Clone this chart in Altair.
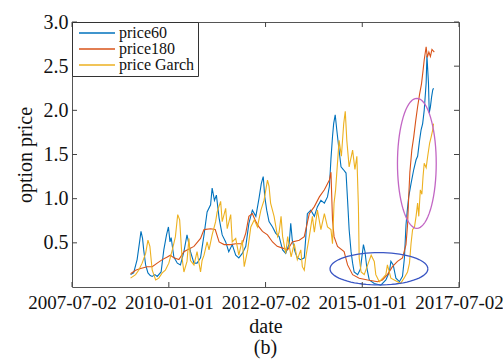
import math
from datetime import datetime

import altair as alt
import pandas as pd

# ---- option price series (time in decimal years) ----
p60_t = [2009.01, 2009.09, 2009.18, 2009.25, 2009.28, 2009.32, 2009.35, 2009.40, 2009.46, 2009.52,
         2009.57, 2009.64, 2009.70, 2009.80, 2009.87, 2009.94, 2009.99, 2010.03, 2010.06, 2010.13,
         2010.22, 2010.30, 2010.39, 2010.47, 2010.56, 2010.65, 2010.73, 2010.82, 2010.91, 2010.99,
         2011.08, 2011.12, 2011.18, 2011.23, 2011.30, 2011.38, 2011.47, 2011.55, 2011.64, 2011.73,
         2011.81, 2011.90, 2011.99, 2012.07, 2012.16, 2012.25, 2012.33, 2012.39, 2012.44, 2012.48,
         2012.53, 2012.59, 2012.68, 2012.76, 2012.85, 2012.94, 2013.02, 2013.11, 2013.15, 2013.19,
         2013.26, 2013.32, 2013.41, 2013.50, 2013.54, 2013.58, 2013.67, 2013.76, 2013.84, 2013.93,
         2014.02, 2014.10, 2014.15, 2014.19, 2014.23, 2014.26, 2014.30, 2014.34, 2014.40, 2014.45,
         2014.51, 2014.58, 2014.62, 2014.66, 2014.71, 2014.75, 2014.79, 2014.88, 2014.95, 2015.03,
         2015.07, 2015.12, 2015.18, 2015.31, 2015.48, 2015.61, 2015.70, 2015.74, 2015.80, 2015.87,
         2015.96, 2016.04, 2016.09, 2016.13, 2016.16, 2016.20, 2016.26, 2016.33, 2016.39, 2016.43,
         2016.48, 2016.52, 2016.56, 2016.60, 2016.65, 2016.67, 2016.71, 2016.73, 2016.76, 2016.79,
         2016.82, 2016.84]
p60_v = [0.14, 0.16, 0.31, 0.53, 0.63, 0.55, 0.42, 0.25, 0.16, 0.13,
         0.12, 0.14, 0.12, 0.17, 0.42, 0.59, 0.68, 0.51, 0.56, 0.34,
         0.27, 0.25, 0.40, 0.59, 0.40, 0.27, 0.27, 0.33, 0.59, 0.85,
         0.93, 1.12, 0.98, 1.04, 0.78, 0.59, 0.51, 0.40, 0.48, 0.36,
         0.33, 0.38, 0.46, 0.72, 0.87, 0.80, 1.00, 1.17, 1.25, 1.02,
         0.87, 0.74, 0.68, 0.61, 0.57, 0.42, 0.38, 0.49, 0.72, 0.53,
         0.40, 0.33, 0.31, 0.33, 0.57, 0.83, 0.87, 0.80, 0.91, 0.98,
         0.95, 1.02, 1.14, 1.45, 1.70, 1.85, 1.95, 1.78, 1.55, 1.36,
         1.33, 1.29, 0.98, 0.65, 0.40, 0.27, 0.17, 0.14, 0.20, 0.48,
         0.40, 0.21, 0.08, 0.04, 0.02, 0.08, 0.17, 0.29, 0.25, 0.10,
         0.06, 0.12, 0.33, 0.70, 0.85, 1.02, 1.17, 1.33, 1.44, 1.48,
         1.66, 1.78, 1.85, 2.00, 2.31, 2.62, 2.31, 1.97, 2.04, 2.15,
         2.23, 2.25]

p180_t = [2009.01, 2009.14, 2009.27, 2009.44, 2009.57, 2009.70, 2009.83, 2009.96, 2010.04, 2010.13,
          2010.26, 2010.39, 2010.52, 2010.65, 2010.82, 2010.91, 2011.08, 2011.20, 2011.30, 2011.43,
          2011.60, 2011.73, 2011.90, 2011.99, 2012.07, 2012.16, 2012.25, 2012.33, 2012.42, 2012.55,
          2012.68, 2012.80, 2012.94, 2013.07, 2013.19, 2013.37, 2013.50, 2013.63, 2013.76, 2013.89,
          2014.02, 2014.15, 2014.19, 2014.23, 2014.27, 2014.36, 2014.53, 2014.62, 2014.75, 2014.92,
          2015.14, 2015.40, 2015.52, 2015.65, 2015.78, 2015.91, 2016.04, 2016.13, 2016.17, 2016.20,
          2016.23, 2016.28, 2016.33, 2016.38, 2016.43, 2016.48, 2016.53, 2016.57, 2016.60, 2016.65,
          2016.68, 2016.72, 2016.76, 2016.80, 2016.86]
p180_v = [0.15, 0.19, 0.21, 0.23, 0.23, 0.27, 0.31, 0.34, 0.36, 0.33,
          0.31, 0.40, 0.43, 0.46, 0.55, 0.65, 0.66, 0.65, 0.51, 0.48,
          0.48, 0.49, 0.49, 0.61, 0.80, 0.83, 0.74, 0.68, 0.63, 0.59,
          0.51, 0.46, 0.44, 0.42, 0.51, 0.53, 0.57, 0.83, 0.91, 1.02,
          1.10, 1.21, 1.30, 0.76, 0.57, 0.46, 0.40, 0.25, 0.14, 0.10,
          0.08, 0.06, 0.08, 0.14, 0.23, 0.29, 0.33, 0.48, 0.70, 1.02,
          1.30, 1.55, 1.70, 1.88, 2.04, 2.18, 2.30, 2.45, 2.57, 2.72,
          2.60, 2.66, 2.61, 2.69, 2.66]

garch_t = [2009.01, 2009.14, 2009.22, 2009.31, 2009.40, 2009.46, 2009.51, 2009.57, 2009.66, 2009.74,
           2009.83, 2009.91, 2010.00, 2010.09, 2010.17, 2010.23, 2010.28, 2010.34, 2010.39, 2010.47,
           2010.52, 2010.56, 2010.65, 2010.73, 2010.82, 2010.86, 2010.91, 2010.99, 2011.04, 2011.12,
           2011.21, 2011.25, 2011.34, 2011.38, 2011.47, 2011.51, 2011.60, 2011.64, 2011.73, 2011.81,
           2011.90, 2011.95, 2012.04, 2012.12, 2012.21, 2012.29, 2012.38, 2012.46, 2012.55, 2012.59,
           2012.63, 2012.72, 2012.81, 2012.85, 2012.90, 2012.94, 2013.02, 2013.07, 2013.16, 2013.24,
           2013.32, 2013.41, 2013.45, 2013.50, 2013.54, 2013.63, 2013.71, 2013.76, 2013.84, 2013.93,
           2014.02, 2014.10, 2014.19, 2014.23, 2014.27, 2014.31, 2014.40, 2014.46, 2014.52, 2014.56,
           2014.60, 2014.66, 2014.75, 2014.81, 2014.86, 2014.90, 2014.92, 2014.97, 2015.05, 2015.14,
           2015.23, 2015.31, 2015.35, 2015.44, 2015.53, 2015.61, 2015.65, 2015.74, 2015.91, 2015.99,
           2016.08, 2016.17, 2016.22, 2016.26, 2016.30, 2016.35, 2016.39, 2016.43, 2016.46, 2016.50,
           2016.54, 2016.57, 2016.60, 2016.65, 2016.69, 2016.74, 2016.78, 2016.82, 2016.84]
garch_v = [0.10, 0.14, 0.19, 0.27, 0.38, 0.53, 0.46, 0.19, 0.08, 0.10,
           0.16, 0.19, 0.27, 0.42, 0.57, 0.82, 0.76, 0.34, 0.17, 0.29,
           0.55, 0.30, 0.25, 0.40, 0.17, 0.30, 0.36, 0.51, 0.42, 0.59,
           0.74, 0.85, 0.97, 0.74, 0.89, 0.66, 0.82, 0.51, 0.55, 0.36,
           0.53, 0.23, 0.42, 0.68, 0.76, 0.68, 0.87, 0.98, 1.21, 1.14,
           0.95, 0.80, 0.57, 0.62, 0.80, 0.57, 0.38, 0.57, 0.34, 0.49,
           0.31, 0.42, 0.23, 0.19, 0.34, 0.57, 0.80, 0.62, 0.87, 0.65,
           0.83, 0.68, 0.65, 0.49, 0.95, 1.10, 1.66, 1.48, 1.85, 1.99,
           1.66, 1.36, 1.55, 1.33, 1.48, 0.91, 0.33, 0.17, 0.14, 0.25,
           0.36, 0.29, 0.14, 0.06, 0.10, 0.14, 0.25, 0.10, 0.06, 0.04,
           0.10, 0.17, 0.27, 0.49, 0.65, 0.68, 0.80, 0.95, 0.80, 1.10,
           1.05, 1.25, 1.40, 1.35, 1.48, 1.63, 1.70, 1.78, 1.85]

series_names = ["price60", "price180", "price Garch"]
series_colors = ["#0072BD", "#D95319", "#EDB120"]

# highlighted regions: (centre year, centre price), (half-width in years, half-height in price)
calm_region = [(2015.43, 0.206), (1.264, 0.183)]
surge_region = [(2016.41, 1.40), (0.50, 0.736)]

x_tick_dates = [(2007, 7, 2), (2010, 1, 1), (2012, 7, 2), (2015, 1, 1), (2017, 7, 2)]
y_ticks = [0.5, 1.0, 1.5, 2.0, 2.5, 3.0]

W, H = 387, 265
TICK = 5
SERIF = "Liberation Serif"
INK = "#111111"


def to_iso(dec_year):
    year = int(dec_year)
    start = datetime(year, 1, 1)
    span = datetime(year + 1, 1, 1) - start
    return (start + span * (dec_year - year)).strftime("%Y-%m-%dT%H:%M:%SZ")


rows = []
for name, ts, vs in zip(series_names, [p60_t, p180_t, garch_t], [p60_v, p180_v, garch_v]):
    for t, v in zip(ts, vs):
        rows.append({"date": to_iso(t), "price": v, "series": name})
prices = pd.DataFrame(rows)


def ellipse_frame(region):
    (cx, cy), (rx, ry) = region
    pts = []
    for i in range(0, 73):
        a = math.radians(i * 5)
        pts.append({"date": to_iso(cx + rx * math.cos(a)), "price": cy + ry * math.sin(a), "i": i})
    return pd.DataFrame(pts)


x_dt = [alt.DateTime(year=y, month=m, date=d, utc=True) for y, m, d in x_tick_dates]
x_scale = alt.Scale(type="utc", domain=[x_dt[0], x_dt[-1]])
y_scale = alt.Scale(domain=[0, 3], nice=False, zero=False)

X = alt.X("date:T", title="date", scale=x_scale)
Y = alt.Y("price:Q", title="option price", scale=y_scale)

lines = alt.Chart(prices).mark_line(strokeWidth=1.1).encode(
    x=alt.X("date:T", title="date", scale=x_scale,
            axis=alt.Axis(values=x_dt, format="%Y-%m-%d", labelFlush=False, labelOverlap=False,
                          ticks=False, domain=False, grid=False, labelPadding=6, titlePadding=4)),
    y=alt.Y("price:Q", title="option price", scale=y_scale,
            axis=alt.Axis(values=y_ticks, format=".1f", ticks=False, domain=False, grid=False,
                          labelPadding=4, titlePadding=8)),
    color=alt.Color(
        "series:N",
        sort=series_names,
        scale=alt.Scale(domain=series_names, range=series_colors),
        legend=alt.Legend(
            title=None, orient="none", legendX=0, legendY=0,
            symbolType="M-1,0H8", symbolSize=64, symbolStrokeWidth=1.5,
            labelOffset=28, rowPadding=0, padding=3,
            strokeColor="#333333", fillColor="white",
            labelFont=SERIF, labelFontSize=16, labelColor=INK,
        ),
    ),
)

calm = alt.Chart(ellipse_frame(calm_region)).mark_line(strokeWidth=1.3, color="#3a56c4").encode(
    x=X, y=Y, order="i:Q")
surge = alt.Chart(ellipse_frame(surge_region)).mark_line(strokeWidth=1.3, color="#c266c4").encode(
    x=X, y=Y, order="i:Q")

# inward-pointing tick marks on all four sides of the box
ytick_df = pd.DataFrame({"price": y_ticks})
xtick_df = pd.DataFrame({"date": [f"{y:04d}-{m:02d}-{d:02d}" for y, m, d in x_tick_dates]})
tick_color = "#444444"
y_left = alt.Chart(ytick_df).mark_rule(color=tick_color).encode(
    y=Y, x=alt.value(0), x2=alt.value(TICK))
y_right = alt.Chart(ytick_df).mark_rule(color=tick_color).encode(
    y=Y, x=alt.value(W - TICK), x2=alt.value(W))
x_bottom = alt.Chart(xtick_df).mark_rule(color=tick_color).encode(
    x=X, y=alt.value(H - TICK), y2=alt.value(H))
x_top = alt.Chart(xtick_df).mark_rule(color=tick_color).encode(
    x=X, y=alt.value(0), y2=alt.value(TICK))

chart = alt.layer(lines, calm, surge, y_left, y_right, x_bottom, x_top).properties(
    width=W,
    height=H,
    padding={"left": 72, "top": 22, "right": 44, "bottom": 75},
    autosize=alt.AutoSizeParams(type="none"),
    title=alt.TitleParams(text="(b)", orient="bottom", anchor="middle", font=SERIF,
                          fontSize=20, fontWeight="normal", color=INK, offset=2),
).configure_view(
    stroke="#555555", strokeWidth=1
).configure_axis(
    labelFont=SERIF, titleFont=SERIF, labelColor=INK, titleColor=INK,
    titleFontWeight="normal", titleFontSize=20,
).configure_axisX(
    labelFontSize=19
).configure_axisY(
    labelFontSize=20
)

chart.save("out.html", embed_options={"renderer": "svg", "actions": False})
